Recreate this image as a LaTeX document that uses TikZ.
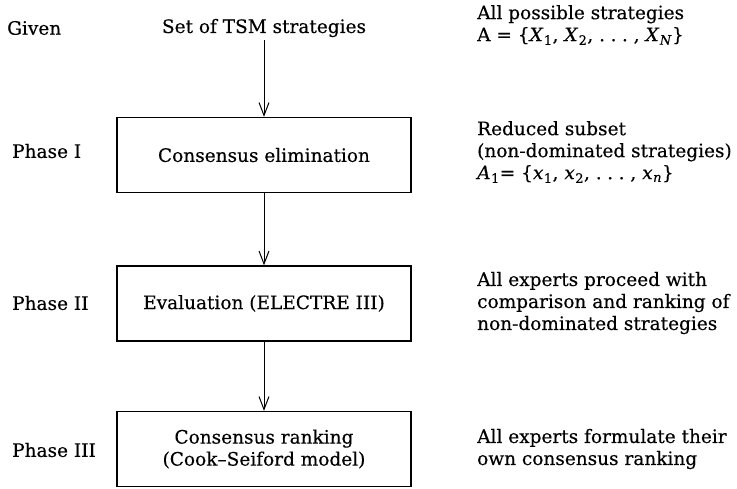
\documentclass[tikz,border=0pt]{standalone}
\usepackage{fontspec}
\setmainfont{DejaVu Serif}[FakeBold=0.35]
\usetikzlibrary{arrows.meta}
\newcommand\varsub[2]{\textit{#1}\kern0.5pt\textsubscript{#2}}
\newcommand\spdots{.\kern0.3em.\kern0.3em.}
\begin{document}
\begin{tikzpicture}[x=1pt,y=1pt,
  every node/.style={font=\fontsize{18.5}{22}\selectfont, inner sep=0pt},
  stepbox/.style={draw, line width=1.3pt, minimum width=294pt, minimum height=75pt, align=center},
  lbl/.style={anchor=west},
  note/.style={anchor=west, align=left},
  flow/.style={-{Straight Barb[length=13pt,width=10pt]}, line width=1pt}]
\useasboundingbox (0,0) rectangle (737,-488);
% left column
\node[lbl] (given) at (7,-28) {Given};
\node[lbl] (p1) at (12,-151) {Phase I};
\node[lbl] (p2) at (12,-303) {Phase II};
\node[lbl] (p3) at (12,-450) {Phase III};
% centre column
\node (set) at (264,-28) {Set of TSM strategies};
\node[stepbox] (b1) at (264,-155) {Consensus elimination};
\node[stepbox] (b2) at (264,-303.5) {Evaluation (ELECTRE III)};
\node[stepbox] (b3) at (264,-449) {Consensus ranking\\(Cook--Seiford model)};
\coordinate (s0) at (264,-40);
\draw[flow] (s0) -- (b1.north -| s0);
\draw[flow] (b1.south -| s0) -- (b2.north -| s0);
\draw[flow] (b2.south -| s0) -- (b3.north -| s0);
% right column
\node[note] (n0) at (477,-25) {All possible strategies\\A = \{\varsub{X}{1}, \varsub{X}{2}, \spdots\ , \varsub{X}{\textit{N}}\}};
\node[note] (n1) at (477,-152) {Reduced subset\\(non-dominated strategies)\\\varsub{A}{1}= \{\varsub{x}{1}, \varsub{x}{2}, \spdots\ , \varsub{x}{\textit{n}}\}};
\node[note] (n2) at (477,-303) {All experts proceed with\\comparison and ranking of\\non-dominated strategies};
\node[note] (n3) at (477,-449) {All experts formulate their\\own consensus ranking};
\end{tikzpicture}
\end{document}
